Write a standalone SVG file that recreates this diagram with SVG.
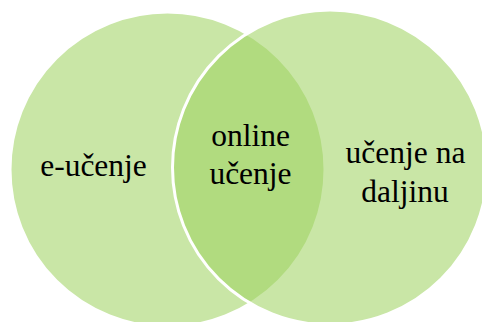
<svg xmlns="http://www.w3.org/2000/svg" width="482" height="322" viewBox="0 0 482 322">
<style>
.c{fill:#9FD260;fill-opacity:0.56;stroke:#FFFFFF;stroke-width:3}
.t{font-family:'Liberation Serif','DejaVu Serif',serif;font-size:31.5px;fill:#000000;text-anchor:middle}
</style>
<rect width="482" height="322" fill="#FFFFFF"/>
<g id="node-e-ucenje">
<circle class="c" cx="167.5" cy="169.5" r="157.5"/>
<text class="t" x="93.5" y="176" font-family="Liberation Serif, DejaVu Serif, serif">e-učenje</text>
</g>
<g id="node-ucenje-na-daljinu">
<circle class="c" cx="330" cy="167.5" r="157.5"/>
<text class="t" x="405.5" y="163" font-family="Liberation Serif, DejaVu Serif, serif">učenje na</text>
<text class="t" x="405" y="202" font-family="Liberation Serif, DejaVu Serif, serif">daljinu</text>
</g>
<g id="node-online-ucenje">
<text class="t" x="250.5" y="146" font-family="Liberation Serif, DejaVu Serif, serif">online</text>
<text class="t" x="250.5" y="184" font-family="Liberation Serif, DejaVu Serif, serif">učenje</text>
</g>
<g id="connectors"></g>
</svg>
